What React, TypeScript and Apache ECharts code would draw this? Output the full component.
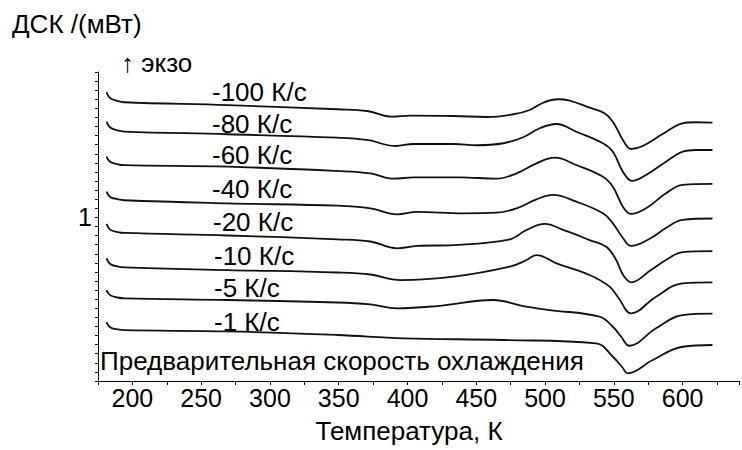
import React, { useEffect, useRef } from "react";
import * as echarts from "echarts";

// DSC cooling-rate series: [temperature K, heat flow mW] (curves offset vertically)
const rateLabels = ["-100 К/с", "-80 К/с", "-60 К/с", "-40 К/с", "-20 К/с", "-10 К/с", "-5 К/с", "-1 К/с"];

const curve100 = [
  [181.2, 2.377], [182.8, 2.33], [184.6, 2.305], [188.4, 2.284], [194.0, 2.267], [269.3, 2.235],
  [349.0, 2.19], [370.6, 2.171], [388.8, 2.108], [401.8, 2.119], [433.5, 2.116], [457.6, 2.105],
  [476.9, 2.135], [488.9, 2.182], [498.6, 2.262], [509.5, 2.3], [517.9, 2.284], [532.4, 2.207],
  [543.2, 2.146], [549.3, 2.053], [556.6, 1.852], [562.6, 1.753], [571.0, 1.786], [585.5, 1.918],
  [600.0, 2.036], [609.6, 2.047], [621.7, 2.042],
];
const curve80 = [
  [181.2, 2.053], [182.8, 2.007], [184.6, 1.982], [188.4, 1.961], [194.0, 1.945], [269.3, 1.915],
  [349.0, 1.877], [370.6, 1.852], [391.2, 1.786], [404.5, 1.808], [433.5, 1.808], [450.3, 1.794],
  [469.7, 1.816], [484.1, 1.882], [496.2, 1.981], [508.3, 2.028], [522.7, 1.943], [542.1, 1.816],
  [549.3, 1.723], [556.6, 1.503], [563.3, 1.401], [573.4, 1.467], [587.9, 1.613], [600.0, 1.723],
  [609.6, 1.742], [621.7, 1.742],
];
const curve60 = [
  [181.2, 1.668], [182.8, 1.627], [184.6, 1.605], [188.4, 1.588], [194.0, 1.575], [269.3, 1.558],
  [349.0, 1.511], [373.0, 1.485], [390.0, 1.426], [404.5, 1.441], [438.3, 1.441], [464.8, 1.426],
  [479.3, 1.485], [493.8, 1.595], [507.0, 1.657], [522.7, 1.577], [542.1, 1.448], [549.3, 1.338],
  [556.6, 1.118], [562.6, 1.038], [573.4, 1.1], [587.9, 1.265], [600.0, 1.357], [621.7, 1.368],
];
const curve40 = [
  [181.2, 1.283], [182.8, 1.24], [184.6, 1.218], [188.4, 1.203], [194.0, 1.189], [269.3, 1.155],
  [349.0, 1.129], [373.0, 1.1], [392.4, 1.034], [406.9, 1.06], [440.7, 1.045], [464.8, 1.052],
  [479.3, 1.1], [493.8, 1.199], [505.9, 1.247], [522.7, 1.173], [542.1, 1.045], [549.3, 0.935],
  [556.6, 0.774], [562.6, 0.686], [577.0, 0.774], [587.9, 0.884], [600.0, 0.972], [621.7, 0.988],
];
const curve20 = [
  [181.2, 0.928], [182.8, 0.884], [184.6, 0.859], [188.4, 0.842], [194.0, 0.829], [269.3, 0.801],
  [349.0, 0.759], [373.0, 0.735], [392.4, 0.66], [406.9, 0.686], [433.5, 0.696], [474.4, 0.759],
  [486.5, 0.862], [499.8, 0.928], [513.1, 0.862], [532.4, 0.751], [544.5, 0.678], [551.7, 0.531],
  [556.8, 0.366], [562.6, 0.286], [577.0, 0.421], [587.9, 0.531], [600.0, 0.619], [621.7, 0.63],
];
const curve10 = [
  [181.2, 0.55], [182.8, 0.505], [184.6, 0.481], [188.4, 0.463], [194.0, 0.45], [269.3, 0.421],
  [349.0, 0.394], [373.0, 0.372], [394.8, 0.311], [433.5, 0.348], [474.4, 0.458], [486.5, 0.531],
  [493.8, 0.586], [508.3, 0.495], [532.4, 0.366], [546.9, 0.238], [553.5, 0.113], [562.6, -0.055],
  [580.7, 0.128], [600.0, 0.275], [621.7, 0.286],
];
const curve5 = [
  [181.2, 0.201], [182.8, 0.16], [184.6, 0.138], [188.4, 0.121], [194.0, 0.109], [269.3, 0.091],
  [349.0, 0.064], [373.0, 0.042], [392.4, 0.0], [421.4, 0.025], [462.4, 0.091], [484.1, 0.025],
  [503.4, -0.019], [539.6, -0.092], [549.3, -0.203], [555.5, -0.316], [561.3, -0.412],
  [580.7, -0.22], [600.0, -0.074], [621.7, -0.059],
];
const curve1 = [
  [181.2, -0.151], [182.8, -0.193], [184.6, -0.215], [188.4, -0.23], [194.0, -0.241], [269.3, -0.255],
  [349.0, -0.294], [397.2, -0.33], [469.7, -0.349], [537.2, -0.385], [549.3, -0.533], [556.0, -0.646],
  [560.2, -0.715], [578.3, -0.569], [600.0, -0.423], [621.7, -0.404],
];

const curves = [curve100, curve80, curve60, curve40, curve20, curve10, curve5, curve1];

const FONT = 'Arial, "Liberation Sans", sans-serif';
const FS_AXIS = 25;
const FS_TEXT = 26;

export default function App() {
  const ref = useRef<HTMLDivElement>(null);

  useEffect(() => {
    if (!ref.current) return;
    const chart = echarts.init(ref.current, null, { renderer: "svg" });

    const labelY = [92, 124, 155, 189, 222, 256, 288, 322];
    const labelX = [212, 212, 212, 212, 213, 214, 214, 214];

    const txt = (text: string, x: number, y: number, align = "left") => ({
      type: "text",
      x,
      y,
      style: { text, fontSize: FS_TEXT, fontFamily: FONT, fill: "#000", align, verticalAlign: "middle" },
    });

    const texts: any[] = [
      txt("ДСК /(мВт)", 12, 24),
      txt("↑ экзо", 121, 63),
      txt("Предварительная скорость охлаждения", 100, 361),
      txt("Температура, К", 409, 431, "center"),
    ];
    rateLabels.forEach((t, i) => texts.push(txt(t, labelX[i], labelY[i])));

    chart.setOption({
      animation: false,
      backgroundColor: "#fff",
      grid: { left: 98, right: 0, top: 72, bottom: 69, containLabel: false },
      xAxis: {
        type: "value",
        min: 175,
        max: 641,
        interval: 25,
        axisLine: { show: true, onZero: false, lineStyle: { color: "#000", width: 1 } },
        axisTick: { show: true, inside: false, length: 4, lineStyle: { color: "#000" } },
        axisLabel: {
          interval: 0,
          margin: 4,
          fontSize: FS_AXIS,
          fontFamily: FONT,
          color: "#000",
          formatter: (v: number) => (Math.abs(v % 50) < 1e-6 && v >= 200 && v <= 600 ? String(v) : ""),
        },
        splitLine: { show: false },
      },
      yAxis: {
        type: "value",
        min: -0.8,
        max: 2.6,
        interval: 0.1,
        axisLine: { show: true, onZero: false, lineStyle: { color: "#000", width: 1 } },
        axisTick: { show: true, inside: false, length: 3, lineStyle: { color: "#000" } },
        axisLabel: {
          margin: 6,
          fontSize: FS_AXIS,
          fontFamily: FONT,
          color: "#000",
          formatter: (v: number) => (Math.abs(v - 1) < 1e-6 ? "1" : ""),
        },
        splitLine: { show: false },
      },
      series: curves.map((data, i) => ({
        type: "line",
        name: rateLabels[i],
        data,
        smooth: 0.4,
        showSymbol: false,
        lineStyle: { color: "#111", width: 1.8 },
      })),
      graphic: texts,
    });

    return () => chart.dispose();
  }, []);

  return <div ref={ref} style={{ position: "fixed", left: 0, top: 0, width: 742, height: 450 }} />;
}
